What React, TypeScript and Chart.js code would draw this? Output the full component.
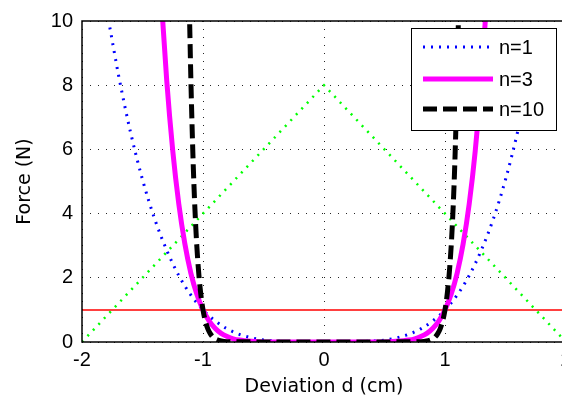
import React, { useEffect, useRef } from "react";
import { Chart, registerables } from "chart.js";
Chart.register(...registerables);

const xTicks = [-2, -1, 0, 1, 2];
const yTicks = [0, 2, 4, 6, 8, 10];
const legendLabels = ["n=1", "n=3", "n=10"];

const n1X = [-1.77, -1.7, -1.6, -1.5, -1.4, -1.3, -1.2, -1.1, -1.0, -0.9, -0.8, -0.7, -0.6, -0.5, -0.4, -0.3, -0.2, 0, 0.2, 0.3, 0.4, 0.5, 0.6, 0.7, 0.8, 0.9, 1.0, 1.1, 1.2, 1.3, 1.4, 1.5, 1.6, 1.7, 1.77];
const n1Y = [9.8, 8.35, 6.55, 5.06, 3.84, 2.86, 2.07, 1.46, 1.0, 0.66, 0.41, 0.24, 0.13, 0.06, 0.03, 0.01, 0, 0, 0, 0.01, 0.03, 0.06, 0.13, 0.24, 0.41, 0.66, 1.0, 1.46, 2.07, 2.86, 3.84, 5.06, 6.55, 8.35, 9.8];

const n3X = [-1.35, -1.3, -1.25, -1.2, -1.15, -1.1, -1.05, -1.0, -0.95, -0.9, -0.85, -0.8, -0.75, -0.7, -0.6, -0.5, 0, 0.5, 0.6, 0.7, 0.75, 0.8, 0.85, 0.9, 0.95, 1.0, 1.05, 1.1, 1.15, 1.2, 1.25, 1.3, 1.35];
const n3Y = [11.0, 8.16, 5.96, 4.3, 3.06, 2.14, 1.48, 1.0, 0.66, 0.43, 0.27, 0.17, 0.1, 0.06, 0.02, 0, 0, 0, 0.02, 0.06, 0.1, 0.17, 0.27, 0.43, 0.66, 1.0, 1.48, 2.14, 3.06, 4.3, 5.96, 8.16, 11.0];

const n10X = [-1.11, -1.1, -1.08, -1.06, -1.04, -1.02, -1.0, -0.98, -0.96, -0.94, -0.92, -0.9, -0.85, -0.8, 0, 0.8, 0.85, 0.9, 0.92, 0.94, 0.96, 0.98, 1.0, 1.02, 1.04, 1.06, 1.08, 1.1, 1.11];
const n10Y = [9.9, 8.14, 5.44, 3.6, 2.37, 1.55, 1.0, 0.64, 0.41, 0.26, 0.16, 0.1, 0.03, 0.01, 0, 0.01, 0.03, 0.1, 0.16, 0.26, 0.41, 0.64, 1.0, 1.55, 2.37, 3.6, 5.44, 8.14, 9.9];

const triX = [-2, 0, 2];
const triY = [0, 8, 0];

const refX = [-2, 2];
const refY = [1, 1];

const pts = (xs: number[], ys: number[]) => xs.map((x, i) => ({ x, y: ys[i] }));

const framePlugin = {
  id: "frame",
  afterDraw(chart: any) {
    const { ctx, chartArea: a } = chart;
    ctx.save();
    ctx.strokeStyle = "#000";
    ctx.lineWidth = 1.5;
    ctx.setLineDash([]);
    ctx.strokeRect(a.left, a.top, a.right - a.left, a.bottom - a.top);
    ctx.restore();
  },
};

const legendPlugin = {
  id: "customLegend",
  afterDraw(chart: any) {
    const { ctx, chartArea: a } = chart;
    const w = 145;
    const h = 102;
    const left = a.right - 10 - w;
    const top = a.top + 7;
    ctx.save();
    ctx.fillStyle = "#fff";
    ctx.fillRect(left, top, w, h);
    ctx.strokeStyle = "#000";
    ctx.lineWidth = 1;
    ctx.setLineDash([]);
    ctx.strokeRect(left + 0.5, top + 0.5, w, h);
    const rows = [19, 51, 81];
    legendLabels.forEach((lab, i) => {
      const ds = chart.data.datasets[i];
      const y = top + rows[i];
      ctx.save();
      ctx.strokeStyle = ds.borderColor;
      ctx.lineWidth = ds.borderWidth;
      ctx.setLineDash(ds.borderDash || []);
      ctx.lineCap = "butt";
      ctx.beginPath();
      ctx.moveTo(left + 12, y);
      ctx.lineTo(left + 82, y);
      ctx.stroke();
      ctx.restore();
      ctx.fillStyle = "#000";
      ctx.font = "20px 'Liberation Sans'";
      ctx.textBaseline = "middle";
      ctx.textAlign = "left";
      ctx.fillText(lab, left + 88, y + 1);
    });
    ctx.restore();
  },
};

export default function App() {
  const ref = useRef<HTMLCanvasElement>(null);
  useEffect(() => {
    document.body.style.margin = "0";
    document.body.style.overflow = "hidden";
    const gridCommon = {
      color: "rgba(0,0,0,0.85)",
      lineWidth: 1,
      drawTicks: false,
      tickLength: 0,
    };
    const chart = new Chart(ref.current!, {
      type: "line",
      data: {
        datasets: [
          {
            label: legendLabels[0],
            data: pts(n1X, n1Y),
            borderColor: "#0000ff",
            borderWidth: 3,
            borderDash: [2, 6],
            cubicInterpolationMode: "monotone",
            pointRadius: 0,
            fill: false,
            order: 3,
          },
          {
            label: legendLabels[1],
            data: pts(n3X, n3Y),
            borderColor: "#ff00ff",
            borderWidth: 5,
            cubicInterpolationMode: "monotone",
            pointRadius: 0,
            fill: false,
            order: 2,
          },
          {
            label: legendLabels[2],
            data: pts(n10X, n10Y),
            borderColor: "#000000",
            borderWidth: 5,
            borderDash: [14, 6],
            cubicInterpolationMode: "monotone",
            pointRadius: 0,
            fill: false,
            order: 1,
          },
          {
            label: "triangle",
            data: pts(triX, triY),
            borderColor: "#00ff00",
            borderWidth: 2.5,
            borderDash: [2, 6],
            tension: 0,
            pointRadius: 0,
            fill: false,
            order: 4,
          },
          {
            label: "threshold",
            data: pts(refX, refY),
            borderColor: "#ff0000",
            borderWidth: 1.5,
            tension: 0,
            pointRadius: 0,
            fill: false,
            order: 5,
          },
        ],
      } as any,
      options: {
        responsive: false,
        animation: false,
        layout: { padding: { left: 0, top: 19, right: 34, bottom: 0 } },
        plugins: { legend: { display: false }, tooltip: { enabled: false } },
        scales: {
          x: {
            type: "linear",
            min: -2,
            max: 2,
            afterBuildTicks: (s: any) => {
              s.ticks = xTicks.map((v) => ({ value: v }));
            },
            afterFit: (s: any) => {
              s.height = 58;
            },
            ticks: {
              color: "#000",
              font: { family: "'Liberation Sans'", size: 20 },
              padding: 6,
              maxRotation: 0,
            },
            grid: gridCommon,
            border: { display: false, dash: [1, 7] },
            title: {
              display: true,
              text: "Deviation d (cm)",
              color: "#000",
              font: { family: "'DejaVu Sans'", size: 19 },
              padding: { top: 0, bottom: 2 },
            },
          },
          y: {
            type: "linear",
            min: 0,
            max: 10,
            afterBuildTicks: (s: any) => {
              s.ticks = yTicks.map((v) => ({ value: v }));
            },
            afterFit: (s: any) => {
              s.width = 82;
            },
            ticks: {
              color: "#000",
              font: { family: "'Liberation Sans'", size: 20 },
              padding: 9,
            },
            grid: gridCommon,
            border: { display: false, dash: [1, 7] },
            title: {
              display: true,
              text: "Force (N)",
              color: "#000",
              font: { family: "'DejaVu Sans'", size: 19 },
              padding: { top: 14, bottom: 0 },
            },
          },
        },
      } as any,
      plugins: [framePlugin, legendPlugin],
    });
    return () => chart.destroy();
  }, []);
  return (
    <div style={{ position: "fixed", left: 0, top: 0, width: 562, height: 400, overflow: "hidden", background: "#fff" }}>
      <canvas ref={ref} width={600} height={400} style={{ display: "block", width: 600, height: 400 }} />
    </div>
  );
}
